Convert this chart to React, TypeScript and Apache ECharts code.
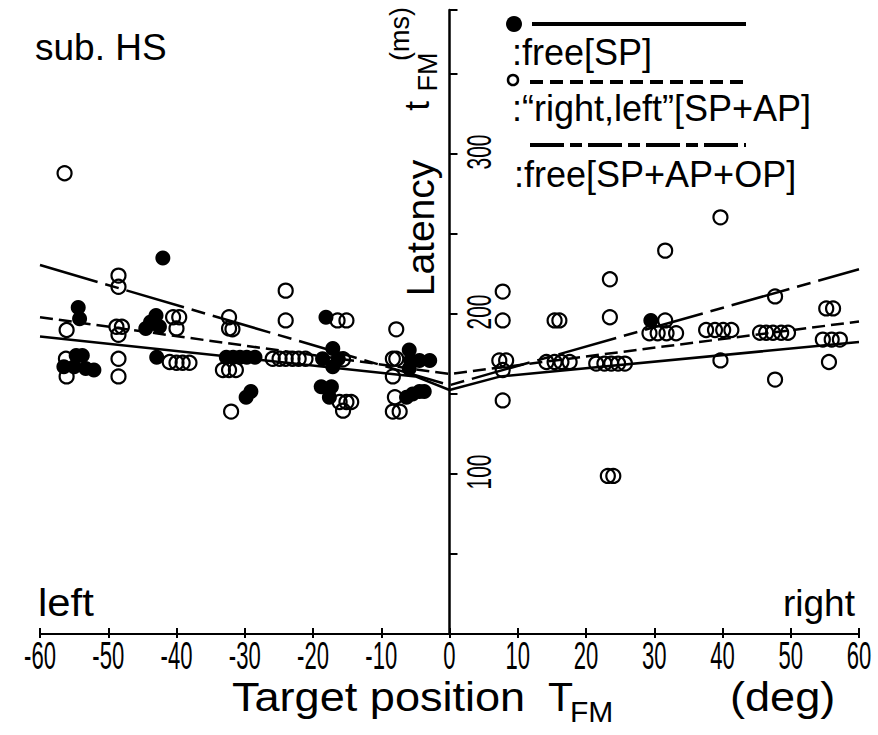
import React, { useEffect, useRef } from 'react';
import * as echarts from 'echarts';

// Tick values and labels
const xTickValues = [-60, -50, -40, -30, -20, -10, 0, 10, 20, 30, 40, 50, 60];
const xTickLabels = ['-60', '-50', '-40', '-30', '-20', '-10', '0', '10', '20', '30', '40', '50', '60'];
const yTickValues = [100, 200, 300];
const yTickLabels = ['100', '200', '300'];

// filled circles : free [SP]  -> [target position deg, latency ms]
const freeSP: [number, number][] = [
  [-42, 235],
  [-54.4, 204], [-54.2, 197],
  [-43, 199], [-43.8, 195], [-44.5, 191], [-42.5, 192],
  [-54.7, 174], [-53.8, 174], [-56.5, 167], [-55, 167], [-53.3, 166], [-52.1, 165],
  [-42.9, 173],
  [-32.7, 173], [-31.7, 173], [-30.7, 173], [-29.7, 173], [-28.5, 173],
  [-29.8, 148], [-29.1, 151.5],
  [-18.1, 198],
  [-17.1, 178.5], [-18.6, 172], [-17.1, 167], [-16.3, 172],
  [-18.8, 154.6], [-17.3, 154.6], [-17.6, 148],
  [-5.9, 177.5], [-5.7, 171], [-5.9, 166], [-4.4, 171], [-2.9, 171],
  [-6.3, 148], [-5.4, 150], [-4.4, 151.5], [-3.7, 151.5],
  [29.5, 196],
];

// open circles : "right,left" [SP+AP]
const rightLeft: [number, number][] = [
  [-56.4, 288],
  [-48.5, 224], [-48.5, 217],
  [-56.1, 190],
  [-48.8, 192], [-48, 192], [-48.5, 187],
  [-40.5, 198], [-39.6, 198], [-40, 191],
  [-56.2, 172], [-56.1, 161],
  [-48.5, 172], [-48.5, 161],
  [-41, 170], [-40, 169.5], [-39.1, 169.5], [-38.1, 169.5],
  [-32.3, 198], [-32.3, 191], [-31.8, 190.5],
  [-33.2, 165], [-32.3, 165], [-31.3, 165],
  [-32, 139],
  [-24, 214.6], [-24, 196],
  [-16.4, 196], [-15.1, 196],
  [-7.8, 190.4],
  [-25.9, 172], [-24.9, 172], [-24, 172], [-23, 172], [-22.1, 172], [-21.1, 172],
  [-15.6, 171.7],
  [-16.1, 145], [-15.1, 145], [-14.4, 145], [-15.6, 139.6],
  [-8.3, 172], [-7.8, 172], [-8.3, 161],
  [-8, 148], [-8.3, 139], [-7.3, 139],
  [7.8, 214], [7.8, 196],
  [15.4, 196], [16.1, 196],
  [23.5, 221.7], [23.5, 198],
  [7.3, 171], [8.3, 171], [7.8, 165],
  [14.2, 170], [15.4, 170], [16.4, 170], [17.6, 170],
  [21.5, 169], [22.7, 169], [23.7, 169], [24.7, 169], [25.7, 169],
  [7.8, 146],
  [23.2, 98.8], [24, 98.8],
  [39.7, 260.4],
  [31.6, 239.6],
  [31.6, 196],
  [29.3, 188], [30.5, 188], [31.8, 188], [33.2, 188],
  [37.6, 190], [38.9, 190], [40.1, 190], [41.3, 190],
  [47.7, 211],
  [45.5, 188.3], [46.4, 188.3], [47.4, 188.3], [48.6, 188.3], [49.6, 188.3],
  [55.2, 203.5], [56.2, 203.5],
  [54.7, 184], [56, 184], [57.2, 184],
  [39.7, 171],
  [55.6, 170],
  [47.7, 159],
];

// regression lines
const lineFreeSP: [number, number][] = [[-60, 186], [-5, 161], [0, 152.5], [7.5, 161], [60, 182.5]];
const lineRightLeft: [number, number][] = [[-60, 198], [0, 162.5], [60, 195.3]];
const lineFreeAll: [number, number][] = [[-60, 230.6], [0, 155.5], [60, 228]];

const FONT = '"Liberation Sans", Arial, Helvetica, sans-serif';

export default function App() {
  const ref = useRef<HTMLDivElement>(null);
  useEffect(() => {
    if (!ref.current) return;
    const chart = echarts.init(ref.current, null, { renderer: 'svg' });
    const axisCommon = {
      type: 'value' as const,
      min: -60,
      max: 60,
      interval: 10,
      splitLine: { show: false },
      axisLabel: { show: false },
    };
    chart.setOption({
      animation: false,
      backgroundColor: '#ffffff',
      grid: { left: 40, right: 19, top: 10, bottom: 101, containLabel: false, outerBoundsMode: 'none' },
      xAxis: [
        {
          ...axisCommon,
          axisLine: { show: true, onZero: false, lineStyle: { color: '#000', width: 2 } },
          axisTick: { show: true, inside: true, length: 6, lineStyle: { color: '#000', width: 2 } },
        },
        {
          ...axisCommon,
          position: 'bottom',
          axisLine: { show: false },
          axisTick: { show: true, inside: false, length: 4, lineStyle: { color: '#000', width: 2 } },
        },
      ],
      yAxis: {
        type: 'value',
        min: 0,
        max: 390,
        interval: 50,
        splitLine: { show: false },
        axisLabel: { show: false },
        axisLine: { show: true, onZero: true, onZeroAxisIndex: 0, lineStyle: { color: '#000', width: 2.5 } },
        axisTick: { show: true, inside: true, length: 8, lineStyle: { color: '#000', width: 2 } },
      },
      series: [
        {
          name: 'free[SP]',
          type: 'scatter',
          data: freeSP,
          symbol: 'circle',
          symbolSize: 15,
          itemStyle: { color: '#000', opacity: 1 },
          z: 3,
        },
        {
          name: '"right,left"[SP+AP]',
          type: 'scatter',
          data: rightLeft,
          symbol: 'circle',
          symbolSize: 14,
          itemStyle: { color: 'rgba(255,255,255,0)', borderColor: '#000', borderWidth: 2.2, opacity: 1 },
          z: 3,
        },
        {
          type: 'line',
          data: lineFreeSP,
          showSymbol: false,
          symbol: 'none',
          lineStyle: { color: '#000', width: 2.5, type: 'solid' },
          z: 2,
        },
        {
          type: 'line',
          data: lineRightLeft,
          showSymbol: false,
          symbol: 'none',
          lineStyle: { color: '#000', width: 2.5, type: [13, 6] },
          z: 2,
        },
        {
          type: 'line',
          data: lineFreeAll,
          showSymbol: false,
          symbol: 'none',
          lineStyle: { color: '#000', width: 2.5, type: [60, 8, 14, 8] },
          z: 2,
        },
      ],
    });

    const px = (x: number, y: number) => chart.convertToPixel({ gridIndex: 0 }, [x, y]) as number[];
    const graphics: any[] = [];
    xTickValues.forEach((v, i) => {
      const p = px(v, 0);
      graphics.push({
        type: 'text',
        x: p[0],
        y: 656,
        scaleX: 0.58,
        style: {
          text: xTickLabels[i],
          font: `38px ${FONT}`,
          fill: '#000',
          align: 'center',
          verticalAlign: 'middle',
        },
      });
    });
    yTickValues.forEach((v, i) => {
      const p = px(0, v);
      graphics.push({
        type: 'text',
        x: p[0] + 29,
        y: p[1] - 2,
        rotation: Math.PI / 2,
        scaleX: 0.58,
        style: {
          text: yTickLabels[i],
          font: `36px ${FONT}`,
          fill: '#000',
          align: 'center',
          verticalAlign: 'middle',
        },
      });
    });
    const txt = (text: string, x: number, y: number, size: number, extra: any = {}) => ({
      type: 'text',
      x,
      y,
      ...extra,
      style: {
        text,
        font: `${size}px ${FONT}`,
        fill: '#000',
        align: extra.align || 'left',
        verticalAlign: 'middle',
      },
    });
    graphics.push(txt('sub. HS', 35, 47, 37));
    graphics.push(txt('left', 38, 603, 38, { scaleX: 1.1 }));
    graphics.push(txt('right', 783, 603, 37));
    graphics.push(txt('Target position', 232, 697, 41, { scaleX: 1.1 }));
    graphics.push(txt('T', 548, 697, 41));
    graphics.push(txt('FM', 570, 711, 30));
    graphics.push(txt('(deg)', 730, 697, 41, { scaleX: 1.1 }));
    // y axis title (rotated)
    graphics.push(txt('Latency', 420, 228, 39, { rotation: Math.PI / 2, align: 'center' }));
    graphics.push(txt('t', 416, 106, 35, { rotation: Math.PI / 2, align: 'center' }));
    graphics.push(txt('FM', 428, 72, 27, { rotation: Math.PI / 2, align: 'center' }));
    graphics.push(txt('(ms)', 400, 34, 27, { rotation: Math.PI / 2, align: 'center' }));
    // legend
    graphics.push({ type: 'circle', shape: { cx: 514, cy: 24, r: 8 }, style: { fill: '#000' } });
    graphics.push({ type: 'line', shape: { x1: 532, y1: 24, x2: 746, y2: 24 }, style: { stroke: '#000', lineWidth: 4 } });
    graphics.push(txt(':free[SP]', 512, 52, 36));
    graphics.push({ type: 'circle', shape: { cx: 513, cy: 80, r: 5 }, style: { fill: 'none', stroke: '#000', lineWidth: 2.5 } });
    graphics.push({ type: 'line', shape: { x1: 530, y1: 82, x2: 746, y2: 82 }, style: { stroke: '#000', lineWidth: 4, lineDash: [13, 7] } });
    graphics.push(txt(':\u201Cright,left\u201D[SP+AP]', 512, 108, 36));
    graphics.push({ type: 'line', shape: { x1: 530, y1: 145, x2: 746, y2: 145 }, style: { stroke: '#000', lineWidth: 4, lineDash: [34, 6, 12, 6] } });
    graphics.push(txt(':free[SP+AP+OP]', 514, 174, 36));

    chart.setOption({ graphic: graphics });
    return () => chart.dispose();
  }, []);
  return <div ref={ref} style={{ position: 'absolute', left: 0, top: 0, width: 878, height: 735 }} />;
}
